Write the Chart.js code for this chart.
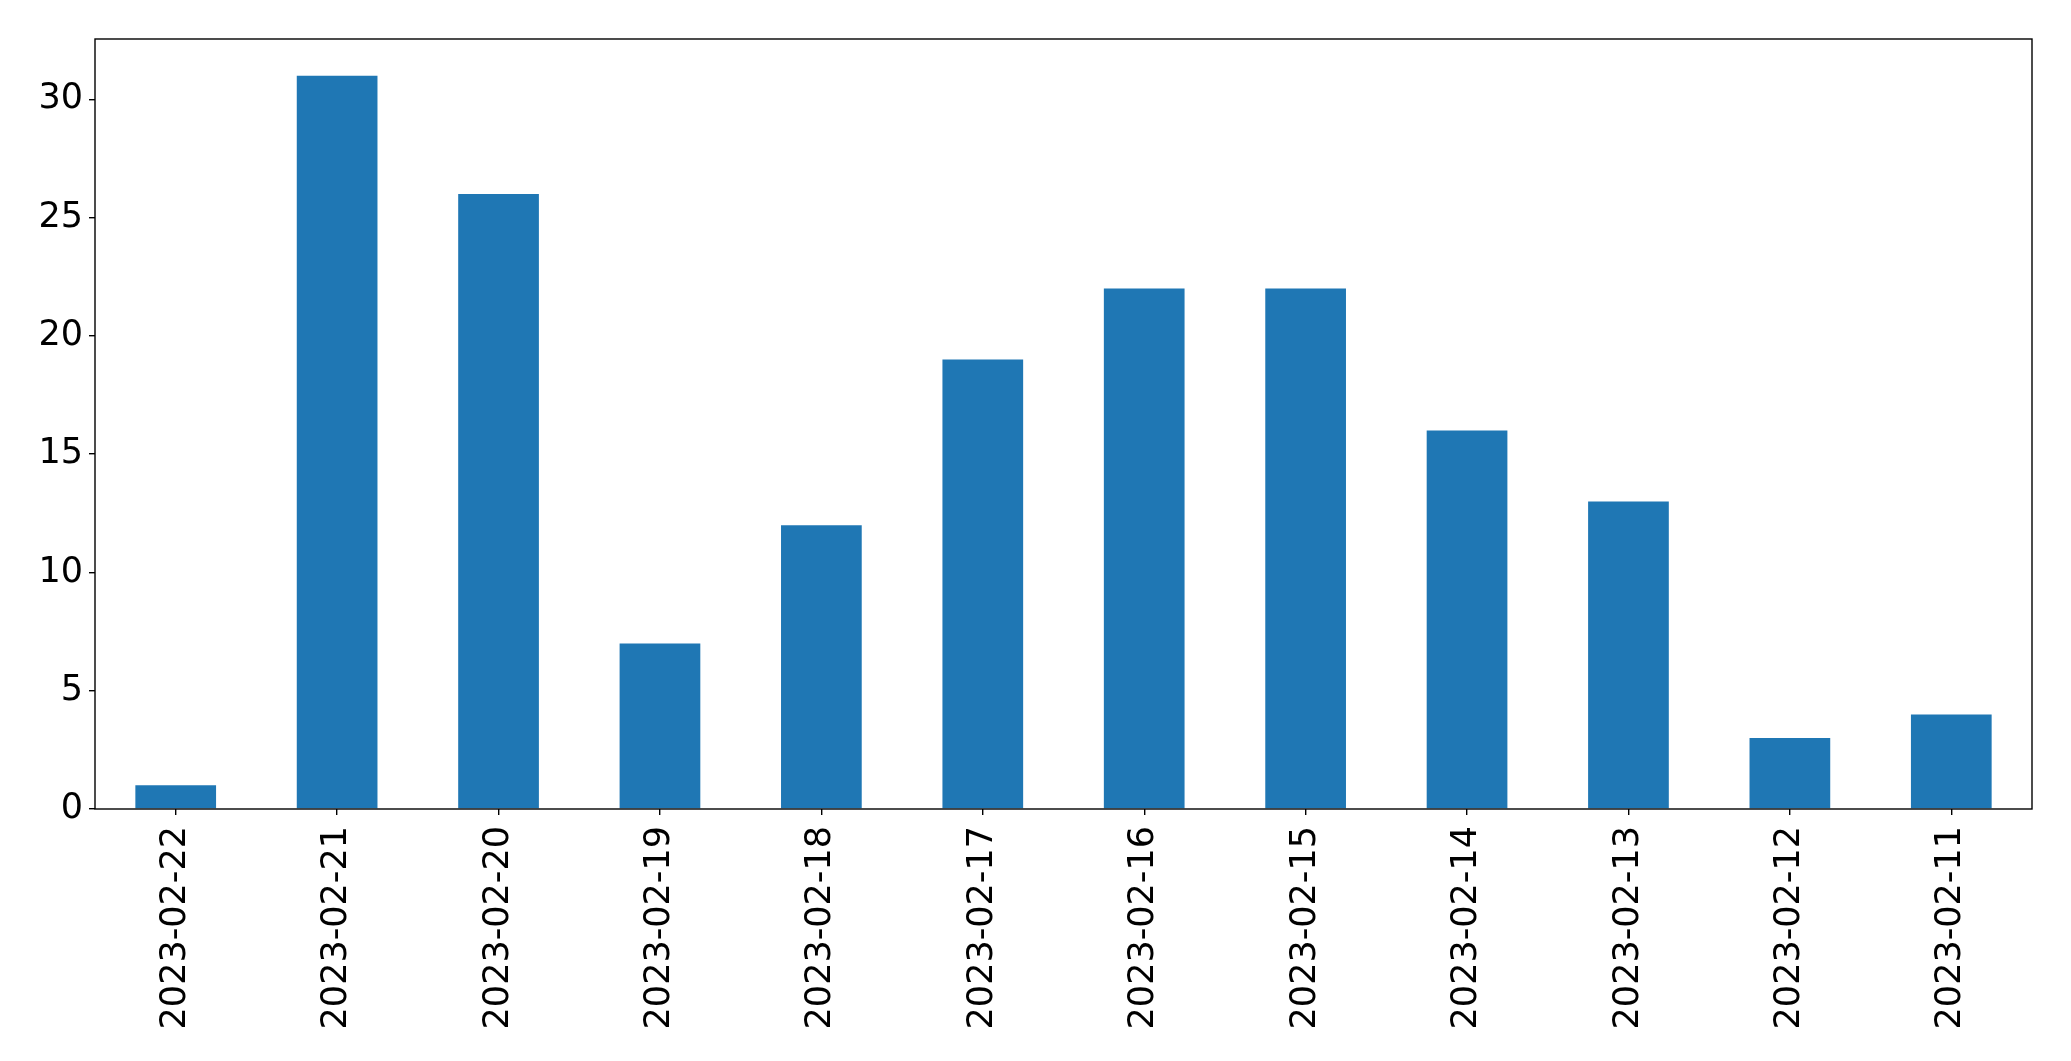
<!DOCTYPE html>
<html>
<head>
<meta charset="utf-8">
<script src="https://cdn.jsdelivr.net/npm/chart.js@4"></script>
<style>
  html, body { margin: 0; padding: 0; background: #fff; }
</style>
</head>
<body>
<canvas id="chart" width="2071" height="1061"></canvas>
<script>
// data
const days = ["2023-02-22", "2023-02-21", "2023-02-20", "2023-02-19", "2023-02-18", "2023-02-17",
  "2023-02-16", "2023-02-15", "2023-02-14", "2023-02-13", "2023-02-12", "2023-02-11"];
const counts = [1, 31, 26, 7, 12, 19, 22, 22, 16, 13, 3, 4];
const yTicks = [0, 5, 10, 15, 20, 25, 30];

// frame around the plot area (matplotlib style)
const frame = {
  id: "frame",
  afterDraw(chart) {
    const a = chart.chartArea;
    const ctx = chart.ctx;
    ctx.save();
    ctx.strokeStyle = "#000";
    ctx.lineWidth = 1.4;
    ctx.strokeRect(a.left, a.top, a.right - a.left, a.bottom - a.top);
    ctx.restore();
  }
};

const font = { family: "'DejaVu Sans'", size: 35 };

new Chart(document.getElementById("chart"), {
  type: "bar",
  data: {
    labels: days,
    datasets: [{
      data: counts,
      backgroundColor: "#1f77b4",
      categoryPercentage: 1,
      barPercentage: 0.5
    }]
  },
  options: {
    responsive: false,
    devicePixelRatio: 1,
    animation: false,
    layout: { padding: { left: 0, top: 39, right: 39, bottom: 0 } },
    plugins: { legend: { display: false }, tooltip: { enabled: false } },
    scales: {
      x: {
        offset: true,
        grid: { display: true, offset: false, drawOnChartArea: false, tickLength: 6, tickColor: "#000", lineWidth: 1.4 },
        border: { display: false },
        ticks: { color: "#000", font: font, minRotation: 90, maxRotation: 90, padding: 11, autoSkip: false },
        afterFit(scale) { scale.height = 252; }
      },
      y: {
        min: 0,
        max: 32.55,
        grid: { display: true, drawOnChartArea: false, tickLength: 6, tickColor: "#000", lineWidth: 1.4 },
        border: { display: false },
        afterBuildTicks(scale) { scale.ticks = yTicks.map(v => ({ value: v })); },
        ticks: { color: "#000", font: font, padding: 6 },
        afterFit(scale) { scale.width = 95; }
      }
    }
  },
  plugins: [frame]
});
</script>
</body>
</html>
